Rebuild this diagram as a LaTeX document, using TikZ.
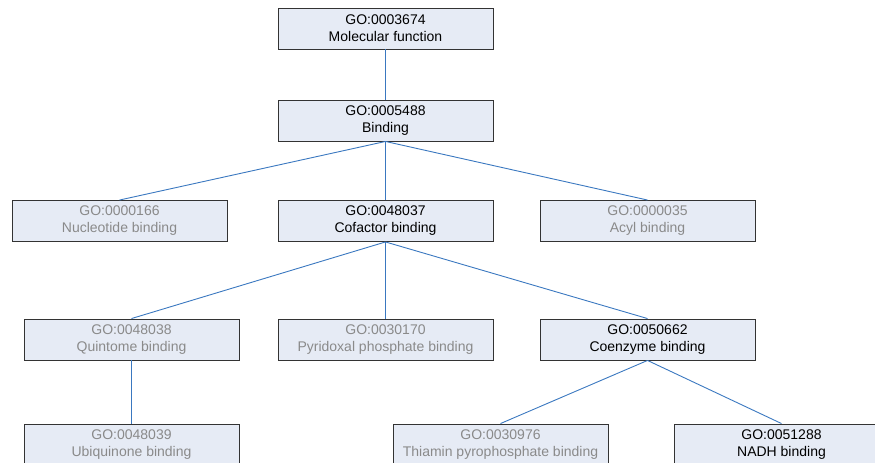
\documentclass[tikz,border=0pt]{standalone}
\usepackage{fontspec}
\setmainfont{Liberation Sans}
\definecolor{boxfill}{HTML}{E6EBF5}
\definecolor{boxline}{HTML}{333333}
\definecolor{edgeblue}{HTML}{3A78C0}
\definecolor{greytext}{HTML}{8A8A8A}
\begin{document}
\begin{tikzpicture}[x=1bp,y=-1bp,
  term/.style={draw=boxline, line width=0.9bp, fill=boxfill, minimum width=215bp, minimum height=41bp,
    inner sep=0pt, align=center, font=\fontsize{14bp}{17bp}\selectfont},
  dim/.style={term, text=greytext},
  link/.style={draw=edgeblue, line width=0.9bp}]
\useasboundingbox (0,0) rectangle (875,463);
\clip (0,0) rectangle (875,463);
\node[term] (mf) at (385.5,28.5) {GO:0003674\\Molecular function};
\node[term] (bind) at (385.5,120.5) {GO:0005488\\Binding};
\node[dim] (nuc) at (119.5,221) {GO:0000166\\Nucleotide binding};
\node[term] (cof) at (385.5,221) {GO:0048037\\Cofactor binding};
\node[dim] (acyl) at (647.5,221) {GO:0000035\\Acyl binding};
\node[dim] (quin) at (131.5,339.5) {GO:0048038\\Quintome binding};
\node[dim] (pyr) at (385.5,339.5) {GO:0030170\\Pyridoxal phosphate binding};
\node[term] (coe) at (647.5,339.5) {GO:0050662\\Coenzyme binding};
\node[dim] (ubi) at (131.5,445) {GO:0048039\\Ubiquinone binding};
\node[dim] (thi) at (500.5,444.5) {GO:0030976\\Thiamin pyrophosphate binding};
\node[term] (nadh) at (781.5,444.5) {GO:0051288\\NADH binding};
\draw[link] (mf.south) -- (bind.north);
\draw[link] (bind.south) -- (nuc.north);
\draw[link] (bind.south) -- (cof.north);
\draw[link] (bind.south) -- (acyl.north);
\draw[link] (cof.south) -- (quin.north);
\draw[link] (cof.south) -- (pyr.north);
\draw[link] (cof.south) -- (coe.north);
\draw[link] (quin.south) -- (ubi.north);
\draw[link] (coe.south) -- (thi.north);
\draw[link] (coe.south) -- (nadh.north);
\end{tikzpicture}
\end{document}
